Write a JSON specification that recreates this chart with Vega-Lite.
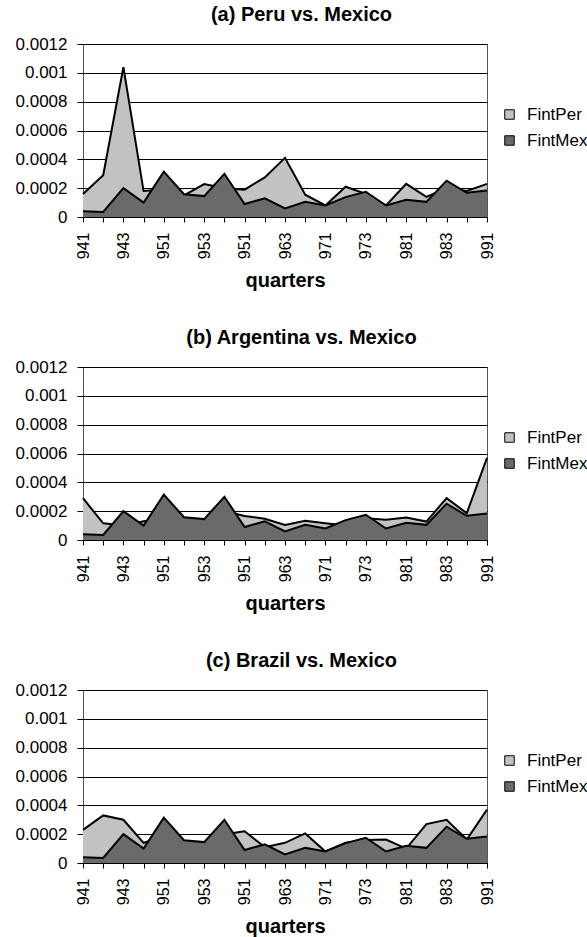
{
  "$schema": "https://vega.github.io/schema/vega-lite/v6.json",
  "background": "white",
  "padding": {"left": 14, "top": 4, "right": 0, "bottom": 0},
  "spacing": 35,
  "config": {
    "font": "Liberation Sans",
    "view": {"stroke": "#555555", "strokeWidth": 1},
    "title": {"fontSize": 20, "fontWeight": "bold", "anchor": "middle", "frame": "bounds", "offset": 10, "color": "black", "font": "Liberation Sans"},
    "axisX": {
      "labelAngle": 270, "labelFontSize": 16, "labelColor": "black", "labelOverlap": false,
      "labelExpr": "datum.value == '961' ? '951' : (parseInt(datum.value) % 2 == 1 ? datum.value : '')",
      "ticks": true, "tickSize": 5, "tickColor": "black", "domain": true, "domainColor": "black",
      "labelPadding": 10, "grid": false, "titleFontSize": 20, "titleFontWeight": "bold", "titleColor": "black", "titlePadding": 12
    },
    "axisY": {
      "labelFontSize": 17, "labelColor": "black", "labelOverlap": false, "grid": true, "gridColor": "black", "gridWidth": 1, "gridOpacity": 1,
      "domain": false, "ticks": true, "tickColor": "black", "tickSize": 6, "labelPadding": 10,
      "values": [0, 0.0002, 0.0004, 0.0006, 0.0008, 0.001, 0.0012], "format": ".4~f"
    },
    "legend": {
      "orient": "none", "legendX": 418, "legendY": 62, "title": null, "symbolType": "square", "symbolSize": 90,
      "symbolStrokeColor": "black", "symbolStrokeWidth": 1, "labelFontSize": 17, "labelColor": "black",
      "rowPadding": 8, "labelOffset": 9, "padding": 0
    }
  },
  "resolve": {"scale": {"color": "independent"}, "legend": {"color": "independent"}},
  "datasets": {
    "peru": [
      {"q": "941", "FintPer": 0.00016, "FintMex": 0.00004},
      {"q": "942", "FintPer": 0.00029, "FintMex": 0.000035},
      {"q": "943", "FintPer": 0.00104, "FintMex": 0.0002},
      {"q": "944", "FintPer": 0.00018, "FintMex": 0.0001},
      {"q": "951", "FintPer": 0.00019, "FintMex": 0.000315},
      {"q": "952", "FintPer": 0.00015, "FintMex": 0.000158},
      {"q": "953", "FintPer": 0.000228, "FintMex": 0.000145},
      {"q": "954", "FintPer": 0.0002, "FintMex": 0.0003},
      {"q": "961", "FintPer": 0.00019, "FintMex": 0.00009},
      {"q": "962", "FintPer": 0.000275, "FintMex": 0.00013},
      {"q": "963", "FintPer": 0.00041, "FintMex": 0.00006},
      {"q": "964", "FintPer": 0.000155, "FintMex": 0.000105},
      {"q": "971", "FintPer": 0.00008, "FintMex": 0.00008},
      {"q": "972", "FintPer": 0.00021, "FintMex": 0.000138},
      {"q": "973", "FintPer": 0.00016, "FintMex": 0.000175},
      {"q": "974", "FintPer": 0.00008, "FintMex": 0.00008},
      {"q": "981", "FintPer": 0.00023, "FintMex": 0.00012},
      {"q": "982", "FintPer": 0.00014, "FintMex": 0.000105},
      {"q": "983", "FintPer": 0.0002, "FintMex": 0.000252},
      {"q": "984", "FintPer": 0.00018, "FintMex": 0.000168},
      {"q": "991", "FintPer": 0.00023, "FintMex": 0.000183}
    ],
    "argentina": [
      {"q": "941", "FintPer": 0.00029, "FintMex": 0.00004},
      {"q": "942", "FintPer": 0.000116, "FintMex": 0.000035},
      {"q": "943", "FintPer": 0.0001, "FintMex": 0.0002},
      {"q": "944", "FintPer": 0.00013, "FintMex": 0.0001},
      {"q": "951", "FintPer": 0.00015, "FintMex": 0.000315},
      {"q": "952", "FintPer": 0.00015, "FintMex": 0.000158},
      {"q": "953", "FintPer": 0.00014, "FintMex": 0.000145},
      {"q": "954", "FintPer": 0.0002, "FintMex": 0.0003},
      {"q": "961", "FintPer": 0.000167, "FintMex": 0.00009},
      {"q": "962", "FintPer": 0.000147, "FintMex": 0.00013},
      {"q": "963", "FintPer": 0.000105, "FintMex": 0.00006},
      {"q": "964", "FintPer": 0.000133, "FintMex": 0.000105},
      {"q": "971", "FintPer": 0.000116, "FintMex": 0.00008},
      {"q": "972", "FintPer": 0.0001, "FintMex": 0.000138},
      {"q": "973", "FintPer": 0.00015, "FintMex": 0.000175},
      {"q": "974", "FintPer": 0.00014, "FintMex": 0.00008},
      {"q": "981", "FintPer": 0.000156, "FintMex": 0.00012},
      {"q": "982", "FintPer": 0.000128, "FintMex": 0.000105},
      {"q": "983", "FintPer": 0.00029, "FintMex": 0.000252},
      {"q": "984", "FintPer": 0.000186, "FintMex": 0.000168},
      {"q": "991", "FintPer": 0.00057, "FintMex": 0.000183}
    ],
    "brazil": [
      {"q": "941", "FintPer": 0.00023, "FintMex": 0.00004},
      {"q": "942", "FintPer": 0.00033, "FintMex": 0.000035},
      {"q": "943", "FintPer": 0.0003, "FintMex": 0.0002},
      {"q": "944", "FintPer": 0.00014, "FintMex": 0.0001},
      {"q": "951", "FintPer": 0.00018, "FintMex": 0.000315},
      {"q": "952", "FintPer": 0.00015, "FintMex": 0.000158},
      {"q": "953", "FintPer": 0.00014, "FintMex": 0.000145},
      {"q": "954", "FintPer": 0.0002, "FintMex": 0.0003},
      {"q": "961", "FintPer": 0.00022, "FintMex": 0.00009},
      {"q": "962", "FintPer": 0.00011, "FintMex": 0.00013},
      {"q": "963", "FintPer": 0.00014, "FintMex": 0.00006},
      {"q": "964", "FintPer": 0.000205, "FintMex": 0.000105},
      {"q": "971", "FintPer": 0.00008, "FintMex": 0.00008},
      {"q": "972", "FintPer": 0.00014, "FintMex": 0.000138},
      {"q": "973", "FintPer": 0.00016, "FintMex": 0.000175},
      {"q": "974", "FintPer": 0.000163, "FintMex": 0.00008},
      {"q": "981", "FintPer": 0.0001, "FintMex": 0.00012},
      {"q": "982", "FintPer": 0.00027, "FintMex": 0.000105},
      {"q": "983", "FintPer": 0.0003, "FintMex": 0.000252},
      {"q": "984", "FintPer": 0.000163, "FintMex": 0.000168},
      {"q": "991", "FintPer": 0.00037, "FintMex": 0.000183}
    ]
  },
  "vconcat": [
    {
      "title": "(a) Peru vs. Mexico",
      "width": 404, "height": 173,
      "data": {"name": "peru"},
      "encoding": {
        "x": {"field": "q", "type": "ordinal", "sort": null, "scale": {"type": "point", "padding": 0}, "title": "quarters"}
      },
      "layer": [
        {"mark": {"type": "area", "opacity": 1},
         "encoding": {
           "y": {"field": "FintPer", "type": "quantitative", "scale": {"domain": [0, 0.0012], "nice": false}, "title": null},
           "color": {"datum": "FintPer", "type": "nominal", "scale": {"domain": ["FintPer", "FintMex"], "range": ["#c2c2c2", "#6a6a6a"]}}
         }},
        {"mark": {"type": "line", "color": "black", "strokeWidth": 2},
         "encoding": {"y": {"field": "FintPer", "type": "quantitative", "title": null}}},
        {"mark": {"type": "area", "opacity": 1},
         "encoding": {
           "y": {"field": "FintMex", "type": "quantitative", "title": null},
           "color": {"datum": "FintMex", "type": "nominal"}
         }},
        {"mark": {"type": "line", "color": "black", "strokeWidth": 2},
         "encoding": {"y": {"field": "FintMex", "type": "quantitative", "title": null}}}
      ]
    },
    {
      "title": "(b) Argentina vs. Mexico",
      "width": 404, "height": 173,
      "data": {"name": "argentina"},
      "encoding": {
        "x": {"field": "q", "type": "ordinal", "sort": null, "scale": {"type": "point", "padding": 0}, "title": "quarters"}
      },
      "layer": [
        {"mark": {"type": "area", "opacity": 1},
         "encoding": {
           "y": {"field": "FintPer", "type": "quantitative", "scale": {"domain": [0, 0.0012], "nice": false}, "title": null},
           "color": {"datum": "FintPer", "type": "nominal", "scale": {"domain": ["FintPer", "FintMex"], "range": ["#c2c2c2", "#6a6a6a"]}}
         }},
        {"mark": {"type": "line", "color": "black", "strokeWidth": 2},
         "encoding": {"y": {"field": "FintPer", "type": "quantitative", "title": null}}},
        {"mark": {"type": "area", "opacity": 1},
         "encoding": {
           "y": {"field": "FintMex", "type": "quantitative", "title": null},
           "color": {"datum": "FintMex", "type": "nominal"}
         }},
        {"mark": {"type": "line", "color": "black", "strokeWidth": 2},
         "encoding": {"y": {"field": "FintMex", "type": "quantitative", "title": null}}}
      ]
    },
    {
      "title": "(c) Brazil vs. Mexico",
      "width": 404, "height": 173,
      "data": {"name": "brazil"},
      "encoding": {
        "x": {"field": "q", "type": "ordinal", "sort": null, "scale": {"type": "point", "padding": 0}, "title": "quarters"}
      },
      "layer": [
        {"mark": {"type": "area", "opacity": 1},
         "encoding": {
           "y": {"field": "FintPer", "type": "quantitative", "scale": {"domain": [0, 0.0012], "nice": false}, "title": null},
           "color": {"datum": "FintPer", "type": "nominal", "scale": {"domain": ["FintPer", "FintMex"], "range": ["#c2c2c2", "#6a6a6a"]}}
         }},
        {"mark": {"type": "line", "color": "black", "strokeWidth": 2},
         "encoding": {"y": {"field": "FintPer", "type": "quantitative", "title": null}}},
        {"mark": {"type": "area", "opacity": 1},
         "encoding": {
           "y": {"field": "FintMex", "type": "quantitative", "title": null},
           "color": {"datum": "FintMex", "type": "nominal"}
         }},
        {"mark": {"type": "line", "color": "black", "strokeWidth": 2},
         "encoding": {"y": {"field": "FintMex", "type": "quantitative", "title": null}}}
      ]
    }
  ]
}
